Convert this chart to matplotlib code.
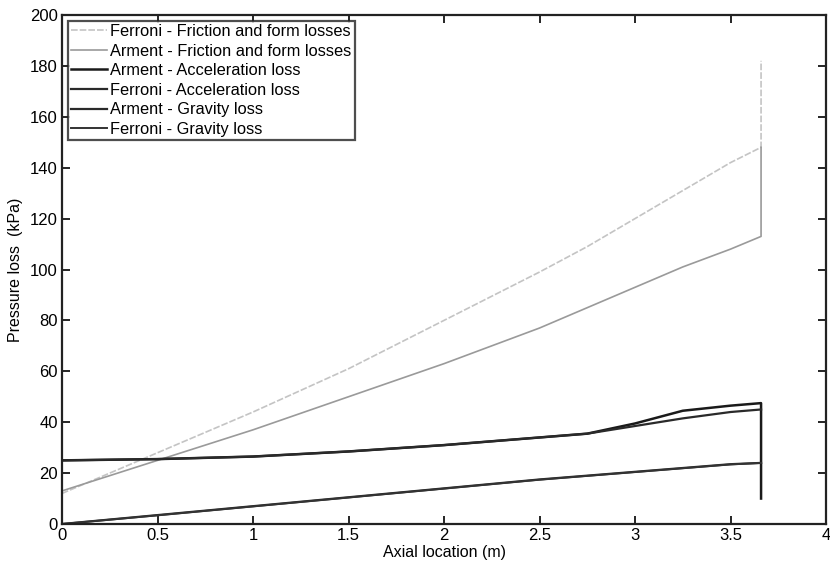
import matplotlib.pyplot as plt

plt.rcParams['font.family'] = ['Liberation Sans', 'DejaVu Sans']

# axial positions (m) and pressure loss components (kPa)
x = [0, 0.5, 1.0, 1.5, 2.0, 2.5, 2.75, 3.0, 3.25, 3.5, 3.66]

ferroni_fric = [12, 28, 44, 61, 80, 99, 109, 120, 131, 142, 148]
arment_fric = [13, 25, 37, 50, 63, 77, 85, 93, 101, 108, 113]
arment_acc = [25, 25.5, 26.5, 28.5, 31, 34, 35.5, 39.5, 44.5, 46.5, 47.5]
ferroni_acc = [25, 25.5, 26.5, 28.5, 31, 34, 35.5, 38.5, 41.5, 44, 45]
arment_grav = [0, 3.5, 7, 10.5, 14, 17.5, 19, 20.5, 22, 23.5, 24]
ferroni_grav = [0, 3.4, 6.9, 10.4, 13.9, 17.4, 18.9, 20.4, 21.9, 23.4, 24]

# exit jumps at the end of the channel
x_end = 3.66
ferroni_fric_exit = 182
arment_fric_exit = 148
arment_acc_exit = 10

fig = plt.figure(figsize=(8.3, 5.69), dpi=100)
ax = fig.add_axes([62/830, 1 - 524/569, (826-62)/830, (524-15)/569])

ax.plot(x + [x_end], ferroni_fric + [ferroni_fric_exit], color='#c4c4c4', lw=1.2,
        ls=(0, (4, 1.2)), label='Ferroni - Friction and form losses')
ax.plot(x + [x_end], arment_fric + [arment_fric_exit], color='#9a9a9a', lw=1.2,
        label='Arment - Friction and form losses')
ax.plot(x + [x_end], arment_acc + [arment_acc_exit], color='#1a1a1a', lw=1.8,
        label='Arment - Acceleration loss')
ax.plot(x, ferroni_acc, color='#2a2a2a', lw=1.6, label='Ferroni - Acceleration loss')
ax.plot(x, arment_grav, color='#2a2a2a', lw=1.6, label='Arment - Gravity loss')
ax.plot(x, ferroni_grav, color='#333333', lw=1.4, label='Ferroni - Gravity loss')

ax.set_xlim(0, 4)
ax.set_ylim(0, 200)
ax.set_xticks([0, 0.5, 1, 1.5, 2, 2.5, 3, 3.5, 4])
ax.set_xticklabels(['0', '0.5', '1', '1.5', '2', '2.5', '3', '3.5', '4'])
ax.set_yticks(range(0, 201, 20))
ax.tick_params(direction='in', top=True, right=True, length=6, width=1.2,
               labelsize=12, pad=3)
for s in ax.spines.values():
    s.set_linewidth(1.6)
    s.set_color('#222222')

ax.set_xlabel('Axial location (m)', fontsize=11.5, labelpad=1)
ax.set_ylabel('Pressure loss  (kPa)', fontsize=11.5, labelpad=5)

leg = ax.legend(loc='upper left', fontsize=11.8, frameon=True, fancybox=False,
                edgecolor='#222222', borderpad=0.2, labelspacing=0.28,
                handlelength=2.2, handletextpad=0.2, borderaxespad=0.35)
leg.get_frame().set_linewidth(1.6)

fig.savefig('out.png', dpi=100)
